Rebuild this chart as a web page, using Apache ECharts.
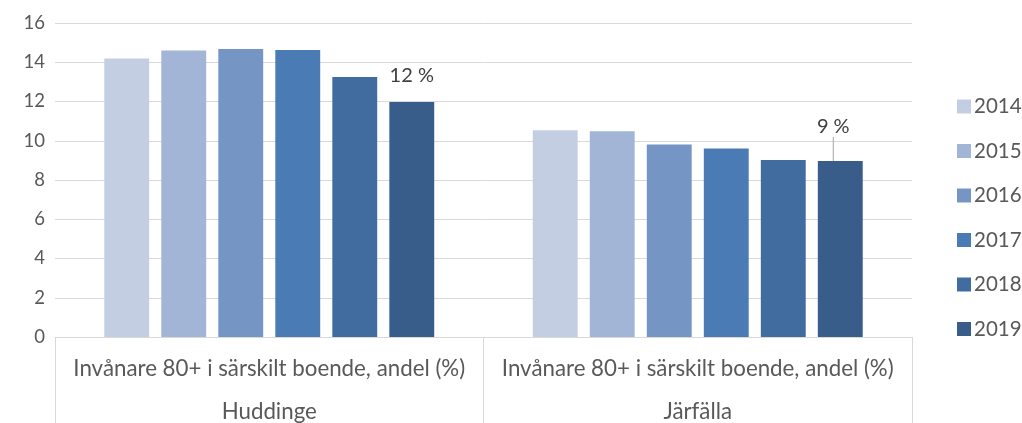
<!DOCTYPE html>
<html>
<head>
<meta charset="utf-8">
<script src="https://cdn.jsdelivr.net/npm/echarts@6/dist/echarts.min.js"></script>
<style>html,body{margin:0;padding:0;background:#fff}#c{width:1022px;height:423px}</style>
</head>
<body>
<div id="c"></div>
<script>
var categories = ['Huddinge', 'Järfälla'];
var measure = 'Invånare 80+ i särskilt boende, andel (%)';
var years = ['2014', '2015', '2016', '2017', '2018', '2019'];
var v2014 = [14.19, 10.53];
var v2015 = [14.60, 10.48];
var v2016 = [14.68, 9.81];
var v2017 = [14.62, 9.60];
var v2018 = [13.25, 9.02];
var v2019 = [11.98, 8.97];
var labels2019 = ['12 %', '9 %'];
var yTicks = [0, 2, 4, 6, 8, 10, 12, 14, 16];

var seriesValues = [v2014, v2015, v2016, v2017, v2018, v2019];
var colors = ['#C4CEE3', '#A3B5D6', '#7596C5', '#4A7BB5', '#416CA0', '#385D8A'];
var FONT = 'Lato';

var series = years.map(function (y, i) {
  var s = {
    name: y,
    type: 'bar',
    data: seriesValues[i],
    barGap: '27%',
    barCategoryGap: '23%',
    itemStyle: { color: colors[i] }
  };
  if (i === years.length - 1) {
    s.data = seriesValues[i].map(function (v, k) {
      return {
        value: v,
        label: { show: true, formatter: labels2019[k] },
        labelLine: { show: k === 1, lineStyle: { color: '#A6A6A6', width: 1 } }
      };
    });
    s.label = { show: true, position: 'top', distance: 5, color: '#404040', fontSize: 20, fontFamily: FONT };
    s.labelLayout = function (p) {
      return p.dataIndex === 1 ? { dx: -7, dy: -19 } : { dy: -11 };
    };
  }
  return s;
});

var el = document.getElementById('c');
var chart = echarts.init(el);
chart.setOption({
  animation: false,
  color: colors,
  grid: { left: 55, right: 110, top: 23, bottom: 86, containLabel: false },
  legend: {
    orient: 'vertical',
    left: 952,
    top: 91,
    itemWidth: 14,
    itemHeight: 14,
    itemGap: 23.5,
    icon: 'rect',
    data: years,
    textStyle: { color: '#595959', fontSize: 20.5, fontFamily: FONT, lineHeight: 20, padding: [0, 0, 0, -2] }
  },
  xAxis: {
    type: 'category',
    data: categories,
    axisLine: { show: true, lineStyle: { color: '#D9D9D9', width: 1 } },
    axisTick: { show: true, length: 86, alignWithLabel: false, lineStyle: { color: '#D9D9D9' } },
    axisLabel: {
      margin: 10,
      formatter: function (v) { return '{a|' + measure + '}\n{b|' + v + '}'; },
      rich: {
        a: { color: '#595959', fontSize: 22.3, fontFamily: FONT, lineHeight: 43 },
        b: { color: '#595959', fontSize: 22.3, fontFamily: FONT, lineHeight: 43 }
      }
    }
  },
  yAxis: {
    type: 'value',
    min: yTicks[0],
    max: yTicks[yTicks.length - 1],
    interval: 2,
    axisLine: { show: false },
    axisTick: { show: false },
    axisLabel: { color: '#595959', fontSize: 18.5, fontFamily: FONT, margin: 10 },
    splitLine: { lineStyle: { color: '#D9D9D9', width: 1 } }
  },
  series: series
});
</script>
</body>
</html>
